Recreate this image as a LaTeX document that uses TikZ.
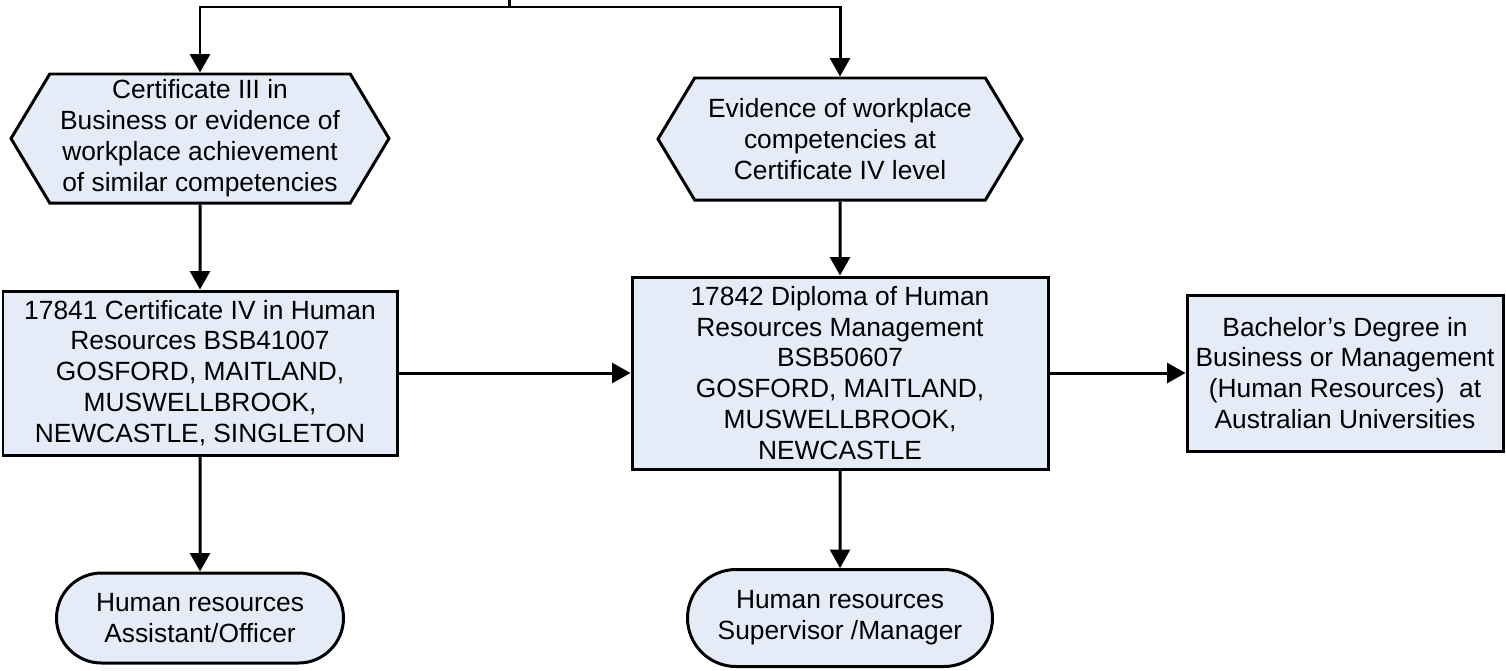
\documentclass[tikz,border=0pt]{standalone}
\usepackage{fontspec}
\setmainfont{Liberation Sans}
\usepackage{xcolor}
\usepackage{tikz}
\usetikzlibrary{arrows.meta, shapes.symbols, shapes.misc}

\definecolor{boxfill}{RGB}{229,235,247}

\begin{document}
\begin{tikzpicture}[x=0.02cm, y=-0.02cm,
    box/.style={draw, line width=1.7pt, fill=boxfill, align=center, inner sep=0pt,
        font=\fontsize{15}{17.6}\selectfont},
    hexbox/.style={box, signal, signal to=west and east, signal pointer angle=118},
    endbox/.style={box, rounded rectangle},
    arr/.style={-{Triangle[length=0.37cm, width=0.40cm]}, line width=1.7pt}]
    \useasboundingbox (0,0) rectangle (1506,670);

    % Entry requirements
    \node[hexbox, minimum width=378*0.02cm, minimum height=129*0.02cm] (hexL) at (200,138.5)
        {Certificate III in\\Business or evidence of\\workplace achievement\\of similar competencies};
    \node[hexbox, minimum width=364*0.02cm, minimum height=122*0.02cm] (hexR) at (840,139)
        {Evidence of workplace\\competencies at\\Certificate IV level};

    % Qualifications
    \node[box, minimum width=394*0.02cm, minimum height=164*0.02cm] (cert) at (200,373)
        {17841 Certificate IV in Human\\Resources BSB41007\\GOSFORD, MAITLAND,\\MUSWELLBROOK,\\NEWCASTLE, SINGLETON};
    \node[box, minimum width=416*0.02cm, minimum height=192*0.02cm] (dipl) at (840,373)
        {17842 Diploma of Human\\Resources Management\\BSB50607\\GOSFORD, MAITLAND,\\MUSWELLBROOK,\\NEWCASTLE};
    \node[box, minimum width=316*0.02cm, minimum height=156*0.02cm] (bach) at (1345,373)
        {Bachelor’s Degree in\\Business or Management\\(Human Resources)\ \ at\\Australian Universities};

    % Job outcomes
    \node[endbox, minimum width=287*0.02cm, minimum height=90*0.02cm] (jobL) at (200,618)
        {Human resources\\Assistant/Officer};
    \node[endbox, minimum width=305*0.02cm, minimum height=97*0.02cm] (jobR) at (840,618)
        {Human resources\\Supervisor /Manager};

    % Connectors
    \coordinate (src) at (509,0);
    \coordinate (split) at (509,7);
    \draw[arr] (src) -- (split) -| (hexL.north);
    \draw[arr] (split) -| (hexR.north);
    \draw[arr] (hexL) -- (cert);
    \draw[arr] (hexR) -- (dipl);
    \draw[arr] (cert) -- (dipl);
    \draw[arr] (dipl) -- (bach);
    \draw[arr] (cert) -- (jobL);
    \draw[arr] (dipl) -- (jobR);

\end{tikzpicture}
\end{document}
